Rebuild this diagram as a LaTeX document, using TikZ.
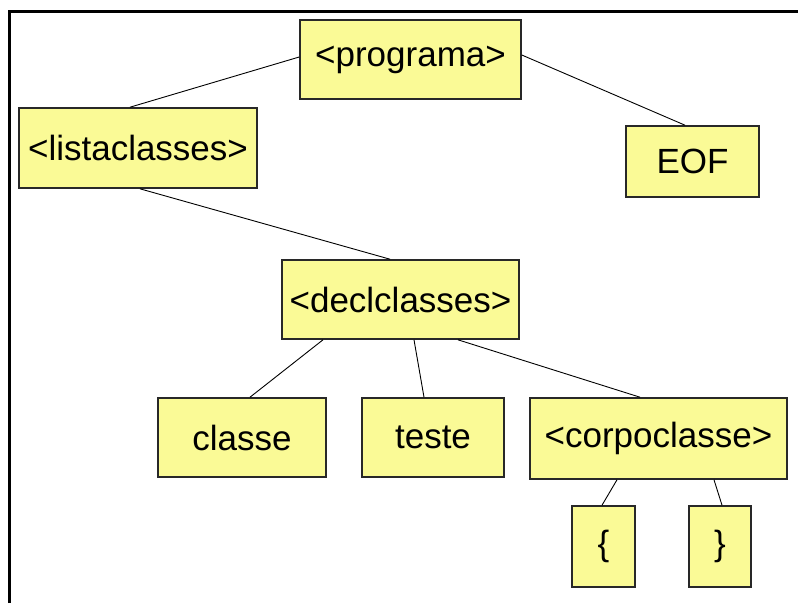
\documentclass[tikz,border=0pt]{standalone}
\usepackage{fontspec}
\setmainfont{Liberation Sans}
\definecolor{boxfill}{RGB}{250,250,150}
\definecolor{boxline}{RGB}{40,40,40}
\begin{document}
\begin{tikzpicture}[x=1pt,y=-1pt,
  tbox/.style={draw=boxline,line width=1.6pt,fill=boxfill,inner sep=0pt,
    font=\fontsize{35}{38}\selectfont},
  link/.style={draw=black,line width=0.9pt}]
\useasboundingbox (0,0) rectangle (798,603);
\fill[white] (0,0) rectangle (798,603);
\draw[line width=3pt] (9,603) -- (9,11) -- (798,11);
\node[tbox,minimum width=221pt,minimum height=79pt] (prog) at (410.5,59.5) {<programa>};
\node[tbox,minimum width=238pt,minimum height=80pt] (lc) at (138,148) {<listaclasses>};
\node[tbox,minimum width=133pt,minimum height=71pt] (eof) at (692.5,161.5) {EOF};
\node[tbox,minimum width=237pt,minimum height=79pt] (decl) at (400.5,299.5) {<declclasses>};
\node[tbox,minimum width=168pt,minimum height=79pt] (classe) at (242,437.5) {classe};
\node[tbox,minimum width=142pt,minimum height=79pt] (teste) at (433,437.5) {teste};
\node[tbox,minimum width=257pt,minimum height=81pt] (corpo) at (658.5,438.5) {<corpoclasse>};
\node[tbox,minimum width=63pt,minimum height=81pt] (lb) at (603.5,546.5) {\{};
\node[tbox,minimum width=62pt,minimum height=81pt] (rb) at (720,546.5) {\}};
\draw[link] ([yshift=2.5pt]prog.west) -- ([xshift=-8pt]lc.north);
\draw[link] ([yshift=4.5pt]prog.east) -- ([xshift=-7.5pt]eof.north);
\draw[link] ([xshift=2pt]lc.south) -- ([xshift=-10.5pt]decl.north);
\draw[link] ([xshift=-77.5pt]decl.south) -- ([xshift=8pt]classe.north);
\draw[link] ([xshift=13.5pt]decl.south) -- ([xshift=-9pt]teste.north);
\draw[link] ([xshift=57.5pt]decl.south) -- ([xshift=-18.5pt]corpo.north);
\draw[link] ([xshift=-41.5pt]corpo.south) -- ([xshift=-1.5pt]lb.north);
\draw[link] ([xshift=55.5pt]corpo.south) -- ([xshift=2pt]rb.north);
\end{tikzpicture}
\end{document}
